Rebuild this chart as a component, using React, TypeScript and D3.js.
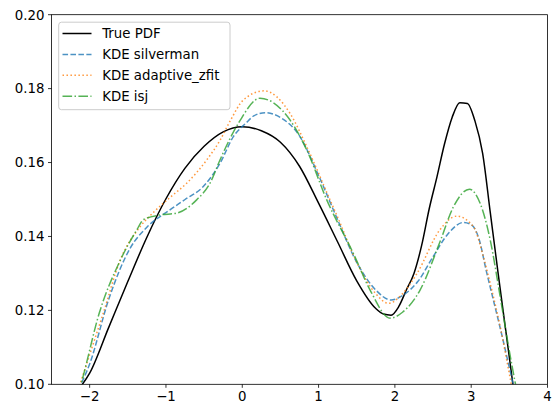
import React from "react";
import * as d3 from "d3";

const trueX = [-2.15, -2.0, -1.75, -1.5, -1.25, -1.0, -0.75, -0.5, -0.25, 0.0, 0.25, 0.5, 0.75, 1.0, 1.25, 1.5, 1.75, 1.85, 1.95, 2.05, 2.15, 2.25, 2.35, 2.45, 2.55, 2.65, 2.75, 2.85, 2.95, 3.05, 3.15, 3.25, 3.35, 3.45, 3.55, 3.62];
const trueY = [0.0985, 0.103, 0.1154, 0.1278, 0.1398, 0.1502, 0.1585, 0.1644, 0.1683, 0.1697, 0.1686, 0.1655, 0.159, 0.149, 0.1385, 0.128, 0.1205, 0.119, 0.1187, 0.121, 0.1255, 0.13, 0.1375, 0.1475, 0.156, 0.165, 0.1722, 0.1762, 0.176, 0.1712, 0.1625, 0.1465, 0.1305, 0.115, 0.0995, 0.088];

const silX = [-2.15, -2.0, -1.75, -1.47, -1.25, -0.948, -0.75, -0.511, -0.292, -0.117, 0.05, 0.15, 0.3, 0.5, 0.75, 1.0, 1.25, 1.5, 1.75, 1.95, 2.1, 2.3, 2.5, 2.7, 2.9, 3.0, 3.1, 3.2, 3.3, 3.4, 3.5, 3.62];
const silY = [0.0985, 0.1055, 0.123, 0.1368, 0.1425, 0.1472, 0.15, 0.1535, 0.1598, 0.167, 0.1707, 0.1726, 0.1735, 0.1722, 0.1672, 0.1565, 0.1445, 0.133, 0.1255, 0.1228, 0.124, 0.1278, 0.1345, 0.1408, 0.1438, 0.1432, 0.1395, 0.1305, 0.122, 0.1135, 0.1045, 0.094];

const adaX = [-2.15, -2.0, -1.822, -1.6, -1.34, -1.165, -0.95, -0.729, -0.466, -0.292, -0.16, 0.013, 0.285, 0.626, 0.845, 1.15, 1.25, 1.5, 1.75, 1.915, 2.1, 2.29, 2.59, 2.81, 3.03, 3.16, 3.27, 3.38, 3.49, 3.6];
const adaY = [0.0985, 0.108, 0.1192, 0.1336, 0.1426, 0.1465, 0.1505, 0.1544, 0.1607, 0.166, 0.1712, 0.1769, 0.1794, 0.1733, 0.1643, 0.1499, 0.1452, 0.133, 0.1245, 0.1219, 0.1245, 0.13, 0.1418, 0.1455, 0.1426, 0.1345, 0.1255, 0.1156, 0.1039, 0.092];

const isjX = [-2.15, -2.105, -1.875, -1.6, -1.384, -1.298, -1.08, -0.86, -0.598, -0.423, -0.292, -0.16, -0.04, 0.232, 0.626, 0.845, 1.107, 1.456, 1.675, 1.937, 2.1, 2.33, 2.59, 2.767, 2.977, 3.117, 3.25, 3.38, 3.49, 3.578, 3.64];
const isjY = [0.0975, 0.1007, 0.1192, 0.1335, 0.1417, 0.1445, 0.1458, 0.1463, 0.1499, 0.1544, 0.1607, 0.1665, 0.171, 0.1774, 0.1715, 0.1634, 0.1499, 0.1354, 0.1255, 0.1179, 0.1195, 0.1255, 0.1385, 0.148, 0.1528, 0.149, 0.139, 0.1237, 0.1102, 0.1003, 0.094];

const xTicks = [-2, -1, 0, 1, 2, 3, 4];
const yTicks = [0.1, 0.12, 0.14, 0.16, 0.18, 0.2];
const seriesNames = ["True PDF", "KDE silverman", "KDE adaptive_zfit", "KDE isj"];

const W = 560, H = 418;
const L = 51.5, R = 547.5, T = 14.7, B = 384.3;
const font = "DejaVu Sans, sans-serif";

export default function App() {
  const x = d3.scaleLinear().domain([-2.5, 4]).range([L, R]);
  const y = d3.scaleLinear().domain([0.1, 0.2]).range([B, T]);
  const line = d3.line<[number, number]>().x(d => x(d[0])).y(d => y(d[1])).curve(d3.curveMonotoneX);
  const mk = (xs: number[], ys: number[]) => xs.map((v, i) => [v, ys[i]] as [number, number]);
  const series = [
    { name: seriesNames[0], d: mk(trueX, trueY), color: "#000000", dash: "", op: 1 },
    { name: seriesNames[1], d: mk(silX, silY), color: "#1f77b4", dash: "5.55,2.4", op: 0.8 },
    { name: seriesNames[2], d: mk(adaX, adaY), color: "#ff7f0e", dash: "1.5,2.475", op: 0.8 },
    { name: seriesNames[3], d: mk(isjX, isjY), color: "#2ca02c", dash: "9.6,2.4,1.5,2.4", op: 0.8 },
  ];
  const fmtY = (v: number) => v.toFixed(2);
  const fmtX = (v: number) => (v < 0 ? "\u2212" + Math.abs(v) : String(v));
  return (
    <svg width={W} height={H} style={{ position: "absolute", left: 0, top: 0 }}>
      <rect width={W} height={H} fill="#fff" />
      <defs>
        <clipPath id="plotclip">
          <rect x={L} y={T} width={R - L} height={B - T} />
        </clipPath>
      </defs>
      <g clipPath="url(#plotclip)">
        {series.map(s => (
          <path key={s.name} d={line(s.d) || ""} fill="none" stroke={s.color} strokeOpacity={s.op}
            strokeWidth={1.5} strokeDasharray={s.dash || undefined} />
        ))}
      </g>
      <rect x={L} y={T} width={R - L} height={B - T} fill="none" stroke="#000" strokeWidth={0.8} />
      {xTicks.map(t => (
        <g key={"x" + t}>
          <line x1={x(t)} x2={x(t)} y1={B} y2={B + 3.5} stroke="#000" strokeWidth={0.8} />
          <text x={x(t)} y={B + 17} textAnchor="middle" fontFamily={font} fontSize={13.33} fill="#000">{fmtX(t)}</text>
        </g>
      ))}
      {yTicks.map(t => (
        <g key={"y" + t}>
          <line x1={L - 3.5} x2={L} y1={y(t)} y2={y(t)} stroke="#000" strokeWidth={0.8} />
          <text x={L - 7} y={y(t) + 4.8} textAnchor="end" fontFamily={font} fontSize={13.33} fill="#000">{fmtY(t)}</text>
        </g>
      ))}
      <g>
        <rect x={58.7} y={22.2} width={171.3} height={87.5} rx={2.8} fill="#fff" fillOpacity={0.8} stroke="#cccccc" strokeWidth={1} />
        {series.map((s, i) => {
          const yy = 33.5 + i * 20.9;
          return (
            <g key={"lg" + i}>
              <line x1={62.5} x2={91.5} y1={yy} y2={yy} stroke={s.color} strokeOpacity={s.op} strokeWidth={1.5}
                strokeDasharray={s.dash || undefined} />
              <text x={102.2} y={yy + 4.8} fontFamily={font} fontSize={13.33} fill="#000">{s.name}</text>
            </g>
          );
        })}
      </g>
    </svg>
  );
}
